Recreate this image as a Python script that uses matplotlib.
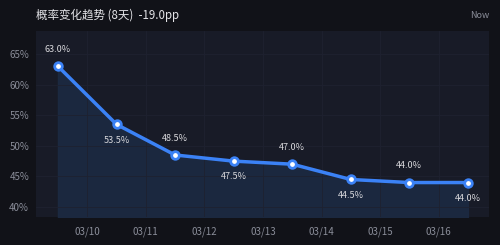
import matplotlib
matplotlib.use("Agg")
import matplotlib.pyplot as plt

values = [63.0, 53.5, 48.5, 47.5, 47.0, 44.5, 44.0, 44.0]
tick_labels = ["03/10", "03/11", "03/12", "03/13", "03/14", "03/15", "03/16"]
y_ticks = [40, 45, 50, 55, 60, 65]
title = "概率变化趋势 (8天)  -19.0pp"

plt.rcParams['font.family'] = ['Noto Sans CJK SC', 'DejaVu Sans']

fig = plt.figure(figsize=(5, 2.45), dpi=100)
fig.patch.set_facecolor('#111218')
ax = fig.add_axes([36/500, 1-217/245, (489-36)/500, (217-31)/245])
ax.set_facecolor('#181b27')

x = list(range(len(values)))
ax.fill_between(x, values, 38.3, color='#1c2a42', alpha=0.9, zorder=1)
ax.plot(x, values, color='#3b82f6', lw=2.5, zorder=3)
ax.scatter(x, values, s=30, facecolor='white', edgecolor='#3b82f6', linewidths=2, zorder=4)

for i, v in enumerate(values):
    if i % 2 == 0:
        ax.annotate(f"{v:.1f}%", (i, v), xytext=(0, 9), textcoords='offset points',
                    ha='center', va='bottom', color='#d8d8dc', fontsize=6.5)
    else:
        ax.annotate(f"{v:.1f}%", (i, v), xytext=(0, -8), textcoords='offset points',
                    ha='center', va='top', color='#d8d8dc', fontsize=6.5)

ax.set_xlim(-0.375, 7.36)
ax.set_ylim(38.37, 68.76)
ax.set_xticks([i + 0.5 for i in range(len(tick_labels))])
ax.set_xticklabels(tick_labels)
ax.set_yticks(y_ticks)
ax.set_yticklabels([f"{t}%" for t in y_ticks])
ax.tick_params(colors='#8a8d99', labelsize=7, length=0, pad=5)
ax.tick_params(axis='x', pad=7)
ax.grid(True, color='#1e2130', lw=0.6, zorder=0)
for s in ax.spines.values():
    s.set_visible(False)

fig.text(36/500, 1-15/245, title, color='#e4e4e8', fontsize=8.3, va='center', ha='left')
fig.text(489/500, 1-15/245, "Now", color='#8a8d99', fontsize=6.5, va='center', ha='right')

fig.savefig('out.png', dpi=100, facecolor=fig.get_facecolor())
